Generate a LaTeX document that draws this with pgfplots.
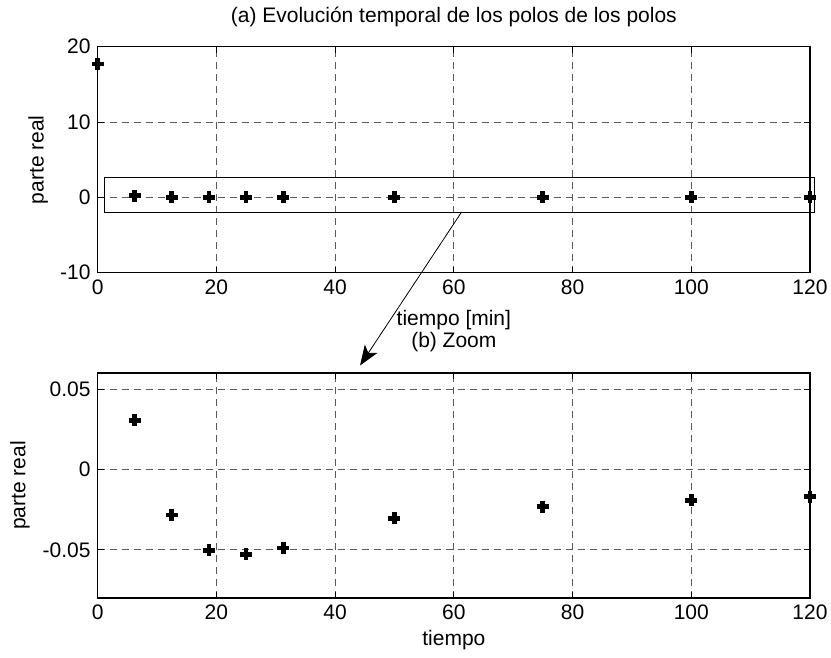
\documentclass[border=0pt]{standalone}
\usepackage{fontspec}
\setmainfont{Liberation Sans}
\usepackage{pgfplots}
\pgfplotsset{compat=1.18}
\usetikzlibrary{arrows.meta}
\begin{document}
\fontsize{21}{25}\selectfont
\begin{tikzpicture}
\pgfplotsset{
  myaxis/.style={
    scale only axis, width=712.3pt, anchor=south west,
    font=\fontsize{21}{25}\selectfont,
    tick label style={font=\fontsize{21}{25}\selectfont},
    label style={font=\fontsize{21}{25}\selectfont},
    title style={font=\fontsize{21}{25}\selectfont},
    xmin=0, xmax=120, xtick={0,20,...,120},
    scaled ticks=false,
    grid=major,
    major grid style={dash pattern=on 7pt off 5pt, black!65, line width=0.9pt},
    tick align=inside, xtick pos=both, ytick pos=both, major tick length=6pt,
    every tick/.style={black, line width=1pt},
    axis line style={line width=1.2pt},
    /pgf/number format/assume math mode=true,
    clip=false,
    title style={at={(axis description cs:0.5,1)}, anchor=center},
    xlabel style={at={(axis description cs:0.5,0)}, anchor=center},
  },
  mymark/.style={only marks, mark=+, mark size=6pt, mark options={line width=4.8pt, black}},
}
% top axis
\begin{axis}[myaxis, at={(97.7pt,-272.7pt)}, height=226pt,
  ymin=-10, ymax=20, ytick={-10,0,10,20},
  title={(a) Evolución temporal de los polos de los polos},
  title style={yshift=24pt},
  xlabel={tiempo [min]}, xlabel style={yshift=-47pt},
  ylabel={parte real},
  ylabel style={at={(axis description cs:-0.0837,0.5)}, rotate=0, anchor=center},
]
\addplot[mymark] coordinates {
  (0,17.7) (6.25,0.2) (12.5,0) (18.75,0) (25,0) (31.25,0) (50,0) (75,0) (100,0) (120,0)
};
\draw[line width=0.8pt] (axis cs:1.1,-1.95) rectangle (axis cs:120.7,2.6);
\coordinate (A) at (axis cs:61.3,-1.95);
\end{axis}
% bottom axis
\begin{axis}[myaxis, at={(97.7pt,-598pt)}, height=225pt,
  ymin=-0.08, ymax=0.06, ytick={-0.05,0,0.05},
  yticklabels={-0.05,0,0.05},
  title={(b) Zoom}, title style={yshift=25pt},
  xlabel={tiempo}, xlabel style={yshift=-42pt},
  ylabel={parte real},
  ylabel style={at={(axis description cs:-0.109,0.5)}, rotate=0, anchor=center},
]
\addplot[mymark] coordinates {
  (6.25,0.0307) (12.5,-0.0284) (18.75,-0.0504) (25,-0.0529) (31.25,-0.0489)
  (50,-0.0305) (75,-0.0232) (100,-0.0191) (120,-0.0170)
};
\coordinate (B) at (axis cs:44.2,0.0647);
\end{axis}
\draw[line width=0.8pt, -{Stealth[length=20pt, width=15pt, inset=5pt]}] (A) -- (B);
\pgfresetboundingbox
\useasboundingbox (0pt,0pt) rectangle (831pt,-657pt);
\end{tikzpicture}
\end{document}
